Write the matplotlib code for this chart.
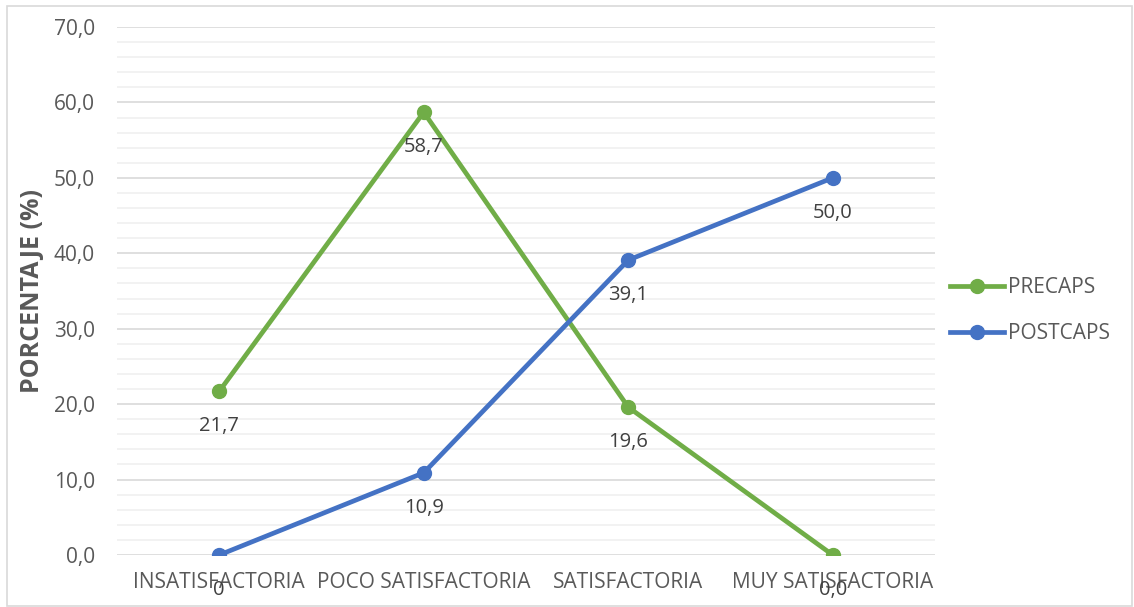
import matplotlib
matplotlib.use('Agg')
import matplotlib.pyplot as plt
from matplotlib.patches import Rectangle
from matplotlib.ticker import MultipleLocator, FuncFormatter

categories = ['INSATISFACTORIA', 'POCO SATISFACTORIA', 'SATISFACTORIA', 'MUY SATISFACTORIA']
precaps = [21.7, 58.7, 19.6, 0.0]
postcaps = [0.0, 10.9, 39.1, 50.0]
precaps_labels = ['21,7', '58,7', '19,6', '0,0']
postcaps_labels = ['0', '10,9', '39,1', '50,0']

GREEN = '#70AD47'
BLUE = '#4472C4'
TEXT = '#595959'

plt.rcParams['font.family'] = ['Open Sans', 'DejaVu Sans']

fig = plt.figure(figsize=(11.34, 6.07), dpi=100)
ax = fig.add_axes([117/1134, 1 - 555/607, 818/1134, 528/607])

x = range(len(categories))
ax.plot(x, precaps, color=GREEN, lw=3.4, marker='o', ms=10, label='PRECAPS', zorder=3)
ax.plot(x, postcaps, color=BLUE, lw=3.4, marker='o', ms=10, label='POSTCAPS', zorder=3)

# data labels sit under each point
for xi, v, s in zip(x, precaps, precaps_labels):
    ax.annotate(s, (xi, v), xytext=(0, -25), textcoords='offset points',
                ha='center', va='center', fontsize=14.5, color='#404040')
for xi, v, s in zip(x, postcaps, postcaps_labels):
    ax.annotate(s, (xi, v), xytext=(0, -25), textcoords='offset points',
                ha='center', va='center', fontsize=14.5, color='#404040')

ax.set_xlim(-0.5, 3.5)
ax.set_ylim(0, 70)
ax.yaxis.set_major_locator(MultipleLocator(10))
ax.yaxis.set_minor_locator(MultipleLocator(2))
ax.yaxis.set_major_formatter(FuncFormatter(lambda v, p: f'{v:.1f}'.replace('.', ',')))
ax.grid(which='major', axis='y', color='#D9D9D9', lw=1.2, zorder=0)
ax.grid(which='minor', axis='y', color='#F0F0F0', lw=1.2, zorder=0)
ax.set_xticks(list(x))
ax.set_xticklabels(categories)
ax.tick_params(axis='both', length=0, labelsize=15, colors=TEXT, which='both')
ax.tick_params(axis='x', pad=12)
ax.tick_params(axis='y', pad=16)
for sp in ax.spines.values():
    sp.set_visible(False)

ax.set_ylabel('PORCENTAJE (%)', fontsize=18, fontweight='bold', color=TEXT, labelpad=6)

ax.legend(loc='center left', bbox_to_anchor=(0.995, 0.463), frameon=False,
          fontsize=15, labelcolor=TEXT, handlelength=2.6, labelspacing=1.2,
          handletextpad=0.2)

fig.patches.append(Rectangle((7/1134, 0.002), 1 - 9/1134, 1 - 7/607, transform=fig.transFigure,
                             fill=False, edgecolor='#D9D9D9', lw=1.2))

fig.savefig('out.png', dpi=100)
